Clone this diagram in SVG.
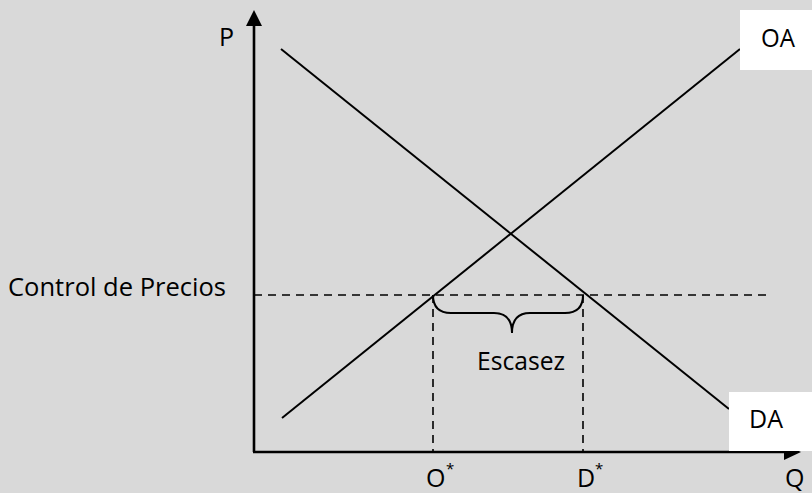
<svg xmlns="http://www.w3.org/2000/svg" width="812" height="493" viewBox="0 0 812 493">
<style>
.t{font-family:"Open Sans","Noto Sans","Liberation Sans",sans-serif;font-size:25px;fill:#000}
.s{font-family:"Open Sans","Noto Sans","Liberation Sans",sans-serif;font-size:15px;fill:#000}
.ln{stroke:#000;stroke-width:2;fill:none}
.dash{stroke:#000;stroke-width:1.6;stroke-dasharray:8 6;fill:none}
.ax{stroke:#000;stroke-width:2.6;fill:none}
.box{fill:#fff}
</style>
<rect x="0" y="0" width="812" height="493" fill="#d9d9d9"/>
<g id="axes">
<line class="ax" x1="254" y1="22" x2="254" y2="452"/>
<line class="ax" x1="253" y1="452" x2="788" y2="452"/>
<polygon points="254,10 246,26 262,26" fill="#000"/>
<polygon points="801,452 784,444 784,460" fill="#000"/>
</g>
<g id="connectors">
<line class="ln" x1="282" y1="418" x2="740" y2="49"/>
<line class="ln" x1="281" y1="49" x2="729" y2="409"/>
<line class="dash" x1="254" y1="295" x2="767" y2="295"/>
<line class="dash" x1="433" y1="295" x2="433" y2="451"/>
<line class="dash" x1="583" y1="295" x2="583" y2="451"/>
<path class="ln" d="M433,295 Q433,313 451,313 L494,313 Q512,313 512,333 Q512,313 530,313 L565,313 Q583,313 583,295"/>
</g>
<g id="OA">
<rect class="box" x="740" y="10" width="72" height="60"/>
<text class="t" x="761" y="47" textLength="34" lengthAdjust="spacingAndGlyphs">OA</text>
</g>
<g id="DA">
<rect class="box" x="729" y="392" width="83" height="59"/>
<text class="t" x="749" y="428" textLength="34" lengthAdjust="spacingAndGlyphs">DA</text>
</g>
<g id="labels">
<text class="t" x="219" y="46">P</text>
<text class="t" x="785" y="487">Q</text>
<text class="t" x="8" y="296" textLength="218" lengthAdjust="spacingAndGlyphs">Control de Precios</text>
<text class="t" x="477" y="370" textLength="88" lengthAdjust="spacingAndGlyphs">Escasez</text>
<text class="t" x="426" y="487">O</text>
<text class="s" x="446" y="474">*</text>
<text class="t" x="577" y="487">D</text>
<text class="s" x="595" y="474">*</text>
</g>
</svg>
